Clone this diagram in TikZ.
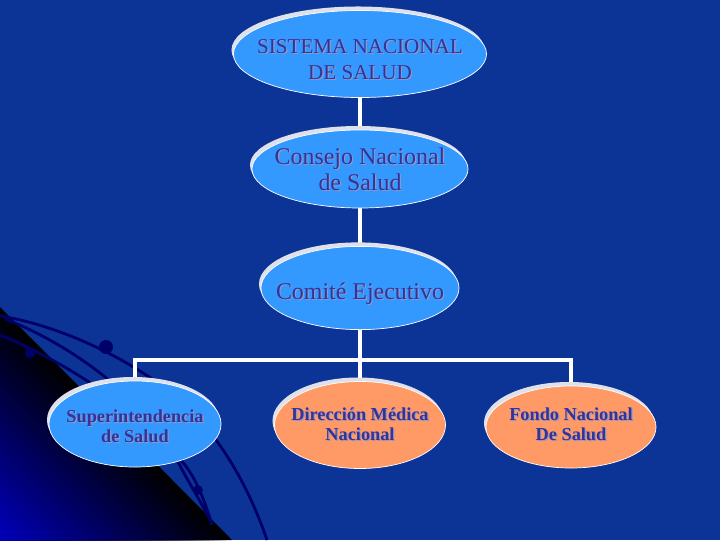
\documentclass[tikz,border=0pt]{standalone}
\usepackage{fontspec}
\setmainfont{Liberation Serif}
\usetikzlibrary{shapes.geometric,shadows}
\pgfdeclarelayer{back}
\pgfsetlayers{back,main}
\definecolor{slide}{RGB}{12,52,150}
\definecolor{swirl}{RGB}{0,0,105}
\definecolor{deep}{RGB}{0,0,190}
\definecolor{skyfill}{RGB}{51,153,255}
\definecolor{peach}{RGB}{255,153,102}
\definecolor{inktext}{RGB}{51,51,153}
\definecolor{inkshade}{RGB}{150,152,196}
\definecolor{rim}{RGB}{222,224,234}
\newcommand\lines[1]{\begin{tabular}{@{}c@{}}#1\end{tabular}}
\newcommand\unittext[2]{\raisebox{-#1}[\height][\depth]{\rlap{\kern0.8pt\raisebox{-0.8pt}{\color{inkshade}\lines{#2}}}\lines{#2}}}

\begin{document}
\begin{tikzpicture}[x=0.025cm, y=-0.025cm,
  unit/.style={ellipse, draw=white, line width=0.5pt, inner xsep=-12pt, inner ysep=0pt,
    text=inktext,
    drop shadow={shadow xshift=-0.05cm, shadow yshift=0.1cm, fill=rim, opacity=1}},
  blueunit/.style={unit, fill=skyfill},
  peachunit/.style={unit, fill=peach, font=\fontsize{13}{14.5}\selectfont\bfseries},
  link/.style={draw=white, line width=2.8pt, line cap=rect},
  swirlline/.style={swirl, line width=2pt}]

\useasboundingbox (0,0) rectangle (720,540);

\node[blueunit, minimum width=6.325cm, minimum height=2.175cm, font=\fontsize{15}{18.5}\selectfont] (sns) at (360,54) {\unittext{5.7pt}{SISTEMA NACIONAL\\DE SALUD}};
\node[blueunit, minimum width=5.4cm, minimum height=1.95cm, font=\fontsize{17}{18.5}\selectfont] (cns) at (360,169) {\unittext{2.8pt}{Consejo Nacional\\de Salud}};
\node[blueunit, minimum width=4.95cm, minimum height=2.08cm, font=\fontsize{17}{19}\selectfont] (ce) at (360,288) {\unittext{5pt}{Comité Ejecutivo}};

\node[blueunit, minimum width=4.3cm, minimum height=2.15cm, font=\fontsize{13}{14.5}\selectfont\bfseries] (si) at (135,424) {\unittext{3.5pt}{Superintendencia\\de Salud}};
\node[peachunit, minimum width=4.275cm, minimum height=2.175cm] (dm) at (360,425) {\unittext{1.5pt}{Dirección Médica\\Nacional}};
\node[peachunit, minimum width=4.25cm, minimum height=2.05cm] (fn) at (571,427) {\unittext{0pt}{Fondo Nacional\\De Salud}};

\coordinate (bar) at (0,360);

\begin{pgfonlayer}{back}
\fill[slide] (0,0) rectangle (720,540);
\foreach \t in {0,...,40} {
  \pgfmathsetmacro\p{\t*2.5}
  \fill[deep!\p!black] (0,{307+\t*233/40}) -- ({232-\t*232/40},540) -- (0,540) -- cycle;
}
\begin{scope}
\clip (0,0) rectangle (720,540);
\draw[swirlline] (0,316) .. controls (60,325) and (150,365) .. (200,420) .. controls (235,460) and (255,505) .. (267,540);
\draw[swirlline] (5,319) .. controls (60,340) and (140,390) .. (178,462) .. controls (190,485) and (200,500) .. (210,520);
\draw[swirlline] (0,335) .. controls (50,355) and (130,400) .. (185,465) .. controls (195,478) and (203,495) .. (212,525);
\fill[swirl] (106,347) circle (0.175cm);
\fill[swirl] (30,353) circle (0.13cm);
\fill[swirl] (198,490) circle (0.12cm);
\end{scope}
\draw[link] (sns.south) -- (cns.north);
\draw[link] (cns.south) -- (ce.north);
\draw[link] (ce.south) -- (ce.south |- bar);
\draw[link] (si.north |- bar) -- (fn.north |- bar);
\draw[link] (si.north |- bar) -- (si.north);
\draw[link] (dm.north |- bar) -- (dm.north);
\draw[link] (fn.north |- bar) -- (fn.north);
\end{pgfonlayer}

\end{tikzpicture}
\end{document}
